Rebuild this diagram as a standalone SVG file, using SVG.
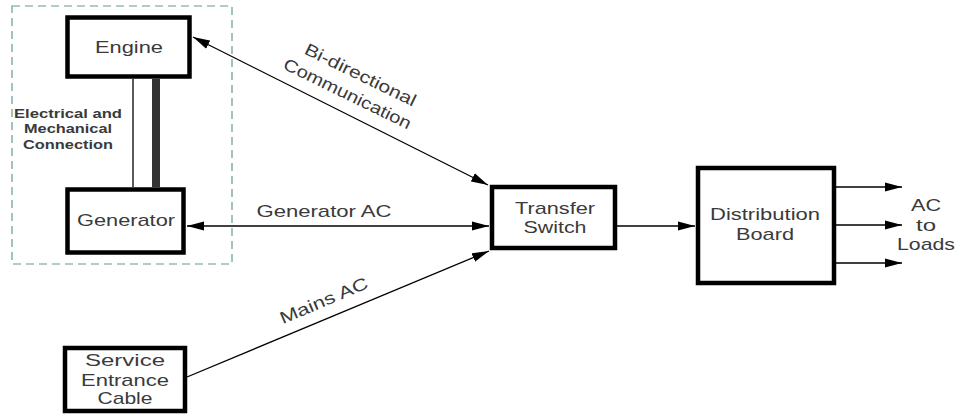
<svg xmlns="http://www.w3.org/2000/svg" width="960" height="414" viewBox="0 0 960 414">
<style>
.box{fill:#fff;stroke:#000;stroke-width:4.5}
.t{font-family:"Liberation Sans",Arial,sans-serif;fill:#3a3a3a;text-anchor:middle}
.n{font-size:17px}
.s{font-size:12px;font-weight:bold}
.c{stroke:#000;stroke-width:1.3;fill:none}
</style>
<defs>
<marker id="ah" markerUnits="userSpaceOnUse" markerWidth="18" markerHeight="10" refX="17" refY="4.5" orient="auto-start-reverse" viewBox="0 0 18 9">
<path d="M0,0 L17,4.5 L0,9 z" fill="#000"/>
</marker>
</defs>
<rect x="12" y="6" width="220" height="258" fill="none" stroke="#5f9e8c" stroke-width="1.2" stroke-dasharray="8,5"/>
<g id="connectors">
<line class="c" x1="133" y1="79" x2="133" y2="187"/>
<rect x="152" y="79" width="8" height="108" fill="#333"/>
<line class="c" x1="193" y1="37" x2="488" y2="185" marker-start="url(#ah)" marker-end="url(#ah)"/>
<line class="c" x1="187" y1="226" x2="489" y2="226" marker-start="url(#ah)" marker-end="url(#ah)"/>
<line class="c" x1="187" y1="377" x2="489" y2="251" marker-end="url(#ah)"/>
<line class="c" x1="617" y1="226" x2="695" y2="226" marker-end="url(#ah)"/>
<line class="c" x1="836" y1="187" x2="902" y2="187" marker-end="url(#ah)"/>
<line class="c" x1="836" y1="225" x2="902" y2="225" marker-end="url(#ah)"/>
<line class="c" x1="836" y1="263" x2="902" y2="263" marker-end="url(#ah)"/>
<text class="t s" x="68" y="118" textLength="108" lengthAdjust="spacingAndGlyphs">Electrical and</text>
<text class="t s" x="68" y="133" textLength="88" lengthAdjust="spacingAndGlyphs">Mechanical</text>
<text class="t s" x="68" y="149" textLength="90" lengthAdjust="spacingAndGlyphs">Connection</text>
<text class="t n" transform="translate(358,80) rotate(26)" textLength="122" lengthAdjust="spacingAndGlyphs">Bi-directional</text>
<text class="t n" transform="translate(345,99) rotate(26)" textLength="140" lengthAdjust="spacingAndGlyphs">Communication</text>
<text class="t n" x="324" y="217" textLength="135" lengthAdjust="spacingAndGlyphs">Generator AC</text>
<text class="t n" transform="translate(326,306) rotate(-23)" textLength="94" lengthAdjust="spacingAndGlyphs">Mains AC</text>
<text class="t n" x="926" y="211" textLength="30" lengthAdjust="spacingAndGlyphs">AC</text>
<text class="t n" x="926" y="231" textLength="20" lengthAdjust="spacingAndGlyphs">to</text>
<text class="t n" x="926" y="250" textLength="58" lengthAdjust="spacingAndGlyphs">Loads</text>
</g>
<g id="engine">
<rect class="box" x="67.5" y="17.5" width="122" height="59"/>
<text class="t n" x="129" y="53" textLength="68" lengthAdjust="spacingAndGlyphs">Engine</text>
</g>
<g id="generator">
<rect class="box" x="67.5" y="189.5" width="116" height="63"/>
<text class="t n" x="126" y="226" textLength="98" lengthAdjust="spacingAndGlyphs">Generator</text>
</g>
<g id="transfer-switch">
<rect class="box" x="492" y="187" width="123" height="61"/>
<text class="t n" x="555" y="214" textLength="80" lengthAdjust="spacingAndGlyphs">Transfer</text>
<text class="t n" x="555" y="233" textLength="63" lengthAdjust="spacingAndGlyphs">Switch</text>
</g>
<g id="distribution-board">
<rect class="box" x="698" y="168" width="136" height="115"/>
<text class="t n" x="765" y="220" textLength="110" lengthAdjust="spacingAndGlyphs">Distribution</text>
<text class="t n" x="765" y="240" textLength="58" lengthAdjust="spacingAndGlyphs">Board</text>
</g>
<g id="service-entrance">
<rect class="box" x="65" y="348" width="120" height="63"/>
<text class="t n" x="125" y="366" textLength="80" lengthAdjust="spacingAndGlyphs">Service</text>
<text class="t n" x="125" y="386" textLength="88" lengthAdjust="spacingAndGlyphs">Entrance</text>
<text class="t n" x="125" y="404" textLength="55" lengthAdjust="spacingAndGlyphs">Cable</text>
</g>
</svg>
